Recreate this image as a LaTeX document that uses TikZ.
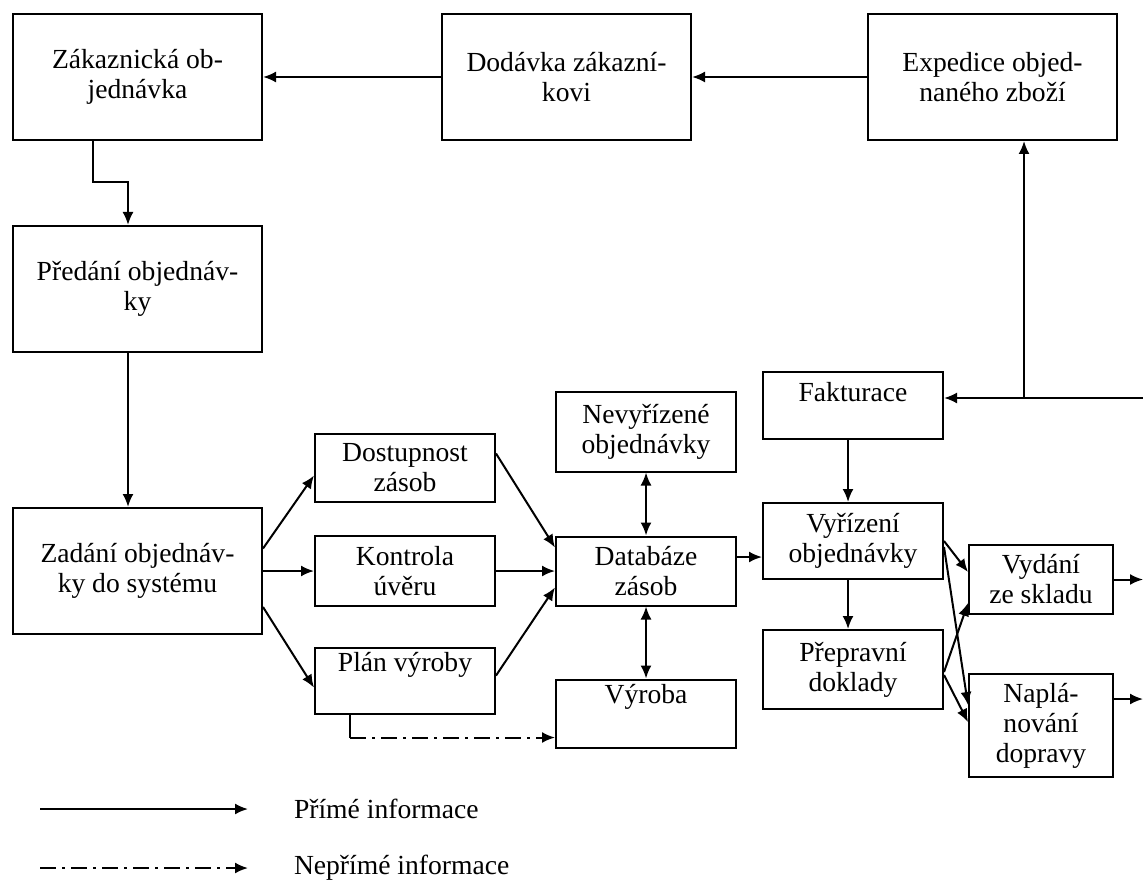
\documentclass[tikz,border=0pt]{standalone}
\usepackage{fontspec}
\setmainfont{Liberation Serif}
\usetikzlibrary{positioning,arrows.meta}

\begin{document}
\begin{tikzpicture}[%
    x=0.5pt, y=-0.5pt,
    ->,
    >={Latex[length=6.5pt,width=5.5pt]},
    line width=1pt,
    blok/.style={%
      draw,
      align=center,
      inner sep=2pt,
      font=\fontsize{13.8}{15}\selectfont
    },
    siroky/.style={blok, minimum width=124.5pt, minimum height=63pt},
    uzky/.style={blok, minimum width=90pt},
    maly/.style={blok, minimum width=72pt},
    neprime/.style={dash pattern=on 8pt off 3pt on 1.5pt off 3pt},
    popis/.style={anchor=west, inner sep=0pt, font=\fontsize{13.8}{15}\selectfont}
  ]
    \useasboundingbox (0,0) rectangle (1143,881);

    \node[siroky] (zak) at (137.5,77)              {Zákaznická ob-\\jednávka};
    \node[siroky] (dod) [right=89pt of zak]        {Dodávka zákazní-\\kovi};
    \node[siroky] (exp) [right=87.5pt of dod]      {Expedice objed-\\naného zboží};
    \node[siroky] (pred) [below=42pt of zak]       {Předání objednáv-\\ky};
    \node[siroky] (zad) [below=77pt of pred]       {Zadání objednáv-\\ky do systému};

    \node[uzky, minimum height=35pt] (kontr) [right=25.5pt of zad]    {Kontrola\\úvěru};
    \node[uzky, minimum height=34pt] (dost) [above=16pt of kontr]     {Dostupnost\\zásob};
    \node[uzky, minimum height=33pt] (plan) [below=20pt of kontr]     {Plán výroby\\\strut};
    \node[uzky, minimum height=34.5pt] (datab) [right=29.5pt of kontr] {Databáze\\zásob};
    \node[uzky, minimum height=40pt] (nevyr) [above=31.5pt of datab]  {Nevyřízené\\objednávky};
    \node[uzky, minimum height=34pt] (vyroba) [below=36pt of datab]   {Výroba\\\strut};

    \node[uzky, minimum height=38pt] (vyriz) at (853,541)              {Vyřízení\\objednávky};
    \node[uzky, minimum height=33.5pt] (faktur) [above=31pt of vyriz]  {Fakturace\\[-6pt]\strut};
    \node[uzky, minimum height=39.5pt] (prepr) [below=24.5pt of vyriz] {Přepravní\\doklady};
    \node[maly, minimum height=34.5pt] (vydani) at (1041,579.5)        {Vydání\\ze skladu};
    \node[maly, minimum height=51.5pt] (naplan) [below=29pt of vydani] {Naplá-\\nování\\dopravy};

    % pomocne body
    \coordinate (okraj) at (1143,0);
    \coordinate (fkraj) at (1143,398);
    \coordinate (fuzel) at (1024,398);
    \coordinate (zk) at ([xshift=-22.25pt]zak.south);
    \coordinate (pk) at ([xshift=-4.75pt]pred.north);
    \coordinate (pv) at ([xshift=-27.5pt]plan.south);
    \coordinate (vv) at ([yshift=-12pt]vyroba.west);
    \coordinate (dv) at ([yshift=-8pt]vyriz.west);
    \coordinate (nv) at ([yshift=13.25pt]naplan.east);

    \path (dod) edge (zak)
          (exp) edge (dod)
          (zad) edge (kontr)
          (kontr) edge (datab)
          (nevyr) edge[<->] (datab)
          (datab) edge[<->] (vyroba)
          ;

    \draw (zk) -- ++(0,-20.5pt) -| (pk);
    \draw ([xshift=-4.75pt]pred.south) -- ([xshift=-4.75pt]zad.north);
    \draw ([yshift=11.25pt]zad.east) -- ([yshift=-3.75pt]dost.west);
    \draw ([yshift=-18pt]zad.east) -- ([yshift=-3.25pt]plan.west);
    \draw ([yshift=7.25pt]dost.east) -- ([yshift=11.75pt]datab.west);
    \draw ([yshift=2.75pt]plan.east) -- ([yshift=-8.25pt]datab.west);
    \draw[-] (pv) -- (pv |- vv);
    \draw[neprime] (pv |- vv) -- (vv);

    \draw (dv -| datab.east) -- (dv);
    \draw (fkraj) -- (fkraj -| faktur.east);
    \draw (fuzel) -- (fuzel |- exp.south);
    \draw ([xshift=-2.5pt]faktur.south) -- ([xshift=-2.5pt]vyriz.north);
    \draw ([xshift=-2.5pt]vyriz.south) -- ([xshift=-2.5pt]prepr.north);

    \draw (vyriz.east) -- ([yshift=3.75pt]vydani.west);
    \draw ([yshift=-3pt]vyriz.east) -- ([yshift=10.25pt]naplan.west);
    \draw ([yshift=-1.25pt]prepr.east) -- ([yshift=-11.75pt]vydani.west);
    \draw ([yshift=-2.75pt]prepr.east) -- ([yshift=1.75pt]naplan.west);
    \draw (vydani.east) -- (vydani.east -| okraj);
    \draw (nv) -- (nv -| okraj);

    % legenda
    \coordinate (l1a) at (40,809);
    \coordinate (l1b) at (248,809);
    \coordinate (l2a) at (40,868);
    \coordinate (l2b) at (248,868);
    \node[popis] (l1t) at (293,809) {Přímé informace};
    \node[popis] (l2t) at (293,868) {Nepřímé informace};
    \draw (l1a) -- (l1b);
    \draw[neprime] (l2a) -- (l2b);
  \end{tikzpicture}
\end{document}
